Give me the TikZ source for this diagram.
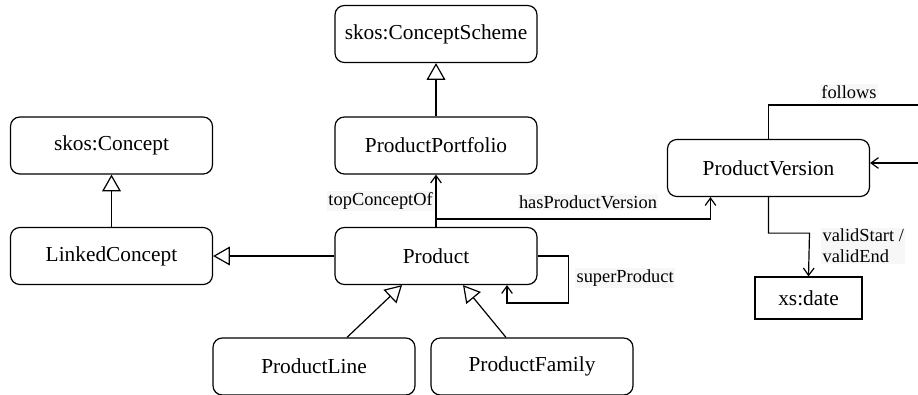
\documentclass[tikz,border=0pt]{standalone}
\usepackage{fontspec}
\setmainfont{Liberation Serif}
\usetikzlibrary{%
  arrows.meta,%
  calc%
}
\tikzset{>=latex,%
  cls/.style={draw,line width=0.9pt,rounded corners=7pt,minimum width=151.5pt,
    minimum height=42.75pt,font=\fontsize{16}{18}\selectfont},
  dtype/.style={draw,line width=0.9pt,minimum width=80.25pt,minimum height=31.5pt,
    font=\fontsize{16}{18}\selectfont},
  isa/.style={draw,line width=0.9pt,-{Triangle[open,length=12.5pt,width=14pt]}},
  rel/.style={draw,line width=0.9pt,-{Straight Barb[length=5.5pt,width=8pt]}},
  lbl/.style={fill=gray!6,inner sep=1pt,font=\fontsize{13.8}{16}\selectfont}}

\begin{document}
\begin{tikzpicture}[x=0.75pt,y=-0.75pt]
    \useasboundingbox (0,0) rectangle (918,394);
    \clip (0,0) rectangle (918,394);
    \node[cls] (scheme) at (436,34) {skos:ConceptScheme};
    \node[cls] (portfolio) at (436,145.5) {ProductPortfolio};
    \node[cls] (concept) at (111.5,145.5) {skos:Concept};
    \node[cls] (linked) at (111.5,256) {LinkedConcept};
    \node[cls] (product) at (436,256) {Product};
    \node[cls] (line) at (314,366.5) {ProductLine};
    \node[cls] (family) at (532,366.5) {ProductFamily};
    \node[cls] (version) at (768.5,168) {ProductVersion};
    \node[dtype] (date) at (808.5,298) {xs:date};
    \coordinate (farright) at (930,105);
    \draw[isa] (portfolio) -- (scheme);
    \draw[isa] (linked) -- (concept);
    \draw[isa] (product.west) -- (linked.east);
    \draw[isa] ($(line.north)+(33,0)$) -- ($(product.south)+(-34,0)$);
    \draw[isa] ($(family.north)+(-26,0)$) -- ($(product.south)+(27,0)$);
    \draw[rel] (product) -- (portfolio) node[lbl,midway,left,xshift=-1pt] {topConceptOf};
    \draw[rel] ($(product.north)+(0,-8)$) -| ($(version.south)+(-58,0)$);
    \node[lbl] (haslbl) at (588,202) {hasProductVersion};
    \draw[rel] (product.east) -| ++(31,47) -| ($(product.south)+(71,0)$);
    \node[lbl,anchor=west] (superlbl) at (575,278) {superProduct};
    \draw[rel] (version.south) |- ++(41,36) -- (date.north);
    \node[lbl,anchor=west,align=left] (validlbl) at (821,246) {validStart /\\validEnd};
    \draw[rel] (version.north) |- (farright) |- ($(version.east)+(0,-5)$);
    \node[lbl] (followslbl) at (849,92) {follows};
  \end{tikzpicture}
\end{document}
